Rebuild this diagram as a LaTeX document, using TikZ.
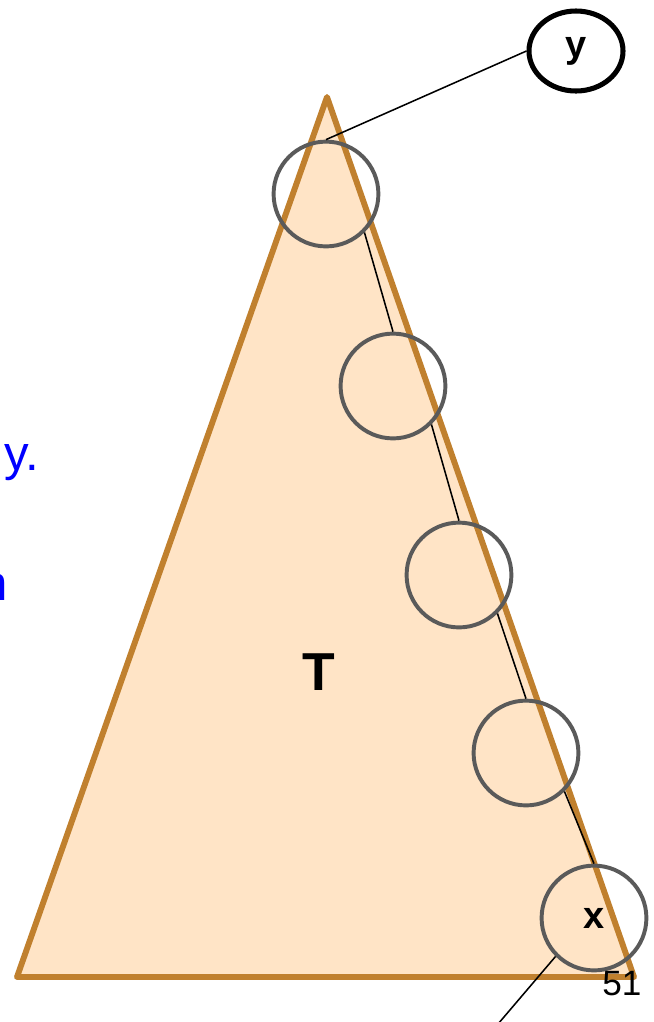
\documentclass[tikz,border=0pt]{standalone}
\usepackage{fontspec}
\setmainfont{Liberation Sans}
\usepackage{xcolor}
\usetikzlibrary{shapes.geometric}
\definecolor{treeedge}{HTML}{C0802E}
\definecolor{treefill}{HTML}{FFE4C6}
\definecolor{ringgray}{HTML}{5A5A5A}
\definecolor{noteblue}{HTML}{0000FF}
\tikzset{
  subtree/.style={draw=treeedge, line width=4.2pt, fill=treefill, line join=round},
  pathnode/.style={circle, draw=ringgray, line width=2.8pt, minimum size=26.2mm, inner sep=0pt,
    font=\fontsize{27}{32}\selectfont\bfseries},
  rootnode/.style={ellipse, draw=black, line width=3.6pt, minimum width=23.5mm, minimum height=20mm,
    inner sep=0pt, font=\fontsize{27}{32}\selectfont\bfseries},
  link/.style={draw=black, line width=1.1pt},
  treelabel/.style={inner sep=0pt, font=\fontsize{38}{44}\selectfont\bfseries},
  sidenote/.style={inner sep=0pt, text=noteblue, font=\fontsize{35}{42}\selectfont},
  pagenum/.style={inner sep=0pt, font=\fontsize{25}{30}\selectfont}
}

\begin{document}
\begin{tikzpicture}[x=0.25mm, y=-0.25mm]
    \useasboundingbox (0,0) rectangle (654,1022);

    \coordinate (apex) at (327,97);
    \coordinate (bl) at (17,977);
    \coordinate (br) at (634,977);
    \filldraw[subtree] (apex) -- (bl) -- (br) -- cycle;

    \node[treelabel] (tlabel) at (319,672) {T};

    \node[pathnode] (c1) at (326,194) {};
    \node[pathnode] (c2) at (393,386) {};
    \node[pathnode] (c3) at (459,575) {};
    \node[pathnode] (c4) at (526,753) {};
    \node[pathnode] (c5) at (594,918) {x};
    \node[rootnode] (y) at (576,51) {y};
    \coordinate (below) at (498,1024);

    \draw[link] (y.west) -- (c1.north);
    \draw[link] (c1.south east) -- (c2.north);
    \draw[link] (c2.south east) -- (c3.north);
    \draw[link] (c3.south east) -- (c4.north);
    \draw[link] (c4.south east) -- (c5.north);
    \draw[link] (c5.south west) -- (below);

    \node[sidenote, anchor=base west] (note1) at (4,470) {y.};
    \node[sidenote, anchor=base east] (note2) at (8,600) {n};
    \node[pagenum, anchor=base west] (pnum) at (602,995) {51};
\end{tikzpicture}
\end{document}
